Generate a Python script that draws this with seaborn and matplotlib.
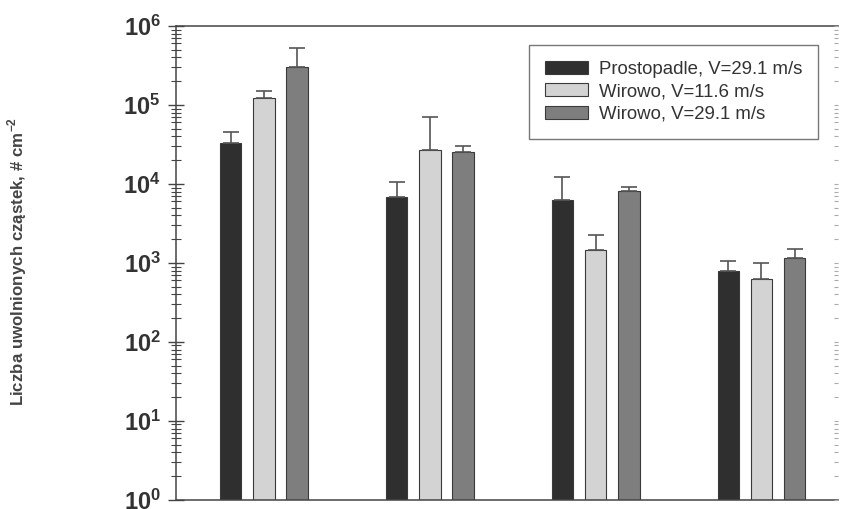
import numpy as np
import pandas as pd
import matplotlib
matplotlib.use('Agg')
import matplotlib.pyplot as plt
from matplotlib.ticker import LogLocator, FuncFormatter, NullFormatter
import seaborn as sns

sns.set_style('white')
plt.rcParams['font.family'] = ['Liberation Sans', 'DejaVu Sans']
plt.rcParams['mathtext.fontset'] = 'custom'
plt.rcParams['mathtext.rm'] = 'Liberation Sans'
plt.rcParams['mathtext.bf'] = 'Liberation Sans:bold'

# data
groups = ['A', 'B', 'C', 'D']
series = ['Prostopadle, V=29.1 m/s', 'Wirowo, V=11.6 m/s', 'Wirowo, V=29.1 m/s']
prostopadle = [33300, 6900, 6340, 800]
prostopadle_err = [45900, 10600, 12400, 1050]
wirowo_116 = [123000, 27200, 1460, 627]
wirowo_116_err = [150000, 69800, 2240, 1000]
wirowo_291 = [305000, 25600, 8150, 1170]
wirowo_291_err = [527000, 30300, 9250, 1520]

colors = ['#2f2f2f', '#d3d3d3', '#7e7e7e']

df = pd.DataFrame({
    'grupa': np.repeat(groups, 3),
    'seria': series * 4,
    'wartosc': np.ravel(np.column_stack([prostopadle, wirowo_116, wirowo_291])),
    'gora': np.ravel(np.column_stack([prostopadle_err, wirowo_116_err, wirowo_291_err])),
})

fig = plt.figure(figsize=(8.42, 5.09), dpi=100)
ax = fig.add_axes([0.209, 0.018, 0.786, 0.931])
ax.set_yscale('log')

sns.barplot(data=df, x='grupa', y='wartosc', hue='seria', hue_order=series,
            palette=colors, width=0.6, gap=0.35, edgecolor='#3a3a3a',
            linewidth=0.8, errorbar=None, ax=ax, legend=True)

# upper-only error bars, placed at the drawn bar centres
for cont, s in zip(ax.containers, series):
    sub = df[df['seria'] == s]
    xs = [p.get_x() + p.get_width() / 2 for p in cont.patches]
    vals = sub['wartosc'].values
    tops = sub['gora'].values
    ax.errorbar(xs, vals, yerr=[np.zeros(len(vals)), tops - vals], fmt='none',
                ecolor='#555555', elinewidth=1.2, capsize=5.5, capthick=1.2, zorder=1)

ax.set_ylim(1, 1e6)
ax.set_xlim(-0.53, 3.46)
ax.set_xlabel('')
ax.set_xticks([])
ax.set_ylabel('Liczba uwolnionych cząstek, # cm$^{\\mathbf{-2}}$',
              fontsize=12.2, fontweight='bold', color='#444444')
ax.yaxis.set_label_coords(-0.222, 0.504)

ax.yaxis.set_major_locator(LogLocator(base=10, numticks=10))
ax.yaxis.set_minor_locator(LogLocator(base=10, subs=np.arange(2, 10), numticks=20))
ax.yaxis.set_minor_formatter(NullFormatter())
ax.yaxis.set_major_formatter(FuncFormatter(lambda v, p: r'$\mathbf{10^{%d}}$' % round(np.log10(v))))
ax.tick_params(axis='y', which='major', direction='inout', length=12, width=1,
               color='#444444', labelsize=17, labelcolor='#333333', pad=5, left=True)
ax.tick_params(axis='y', which='minor', direction='inout', length=7, width=0.8,
               color='#444444', left=True)

for side in ['left', 'bottom', 'top']:
    ax.spines[side].set_visible(True)
    ax.spines[side].set_color('#444444')
    ax.spines[side].set_linewidth(1.1)
ax.spines['right'].set_visible(False)

# faint ticks on the right side
ax2 = ax.twinx()
ax2.set_yscale('log')
ax2.set_ylim(1, 1e6)
ax2.yaxis.set_major_locator(LogLocator(base=10, numticks=10))
ax2.yaxis.set_minor_locator(LogLocator(base=10, subs=np.arange(2, 10), numticks=20))
ax2.yaxis.set_major_formatter(NullFormatter())
ax2.yaxis.set_minor_formatter(NullFormatter())
ax2.tick_params(axis='y', which='both', direction='in', length=3, width=0.8, color='#aaaaaa')
for s in ax2.spines.values():
    s.set_visible(False)

leg = ax.legend(loc='upper right', bbox_to_anchor=(0.97, 0.96), fontsize=13.4,
                frameon=True, fancybox=False, edgecolor='#555555',
                handlelength=2.3, handleheight=0.7, handletextpad=0.6,
                labelspacing=0.3, borderpad=0.85, borderaxespad=0)
leg.get_frame().set_linewidth(1.0)
for t in leg.get_texts():
    t.set_color('#333333')

fig.savefig('out.png', dpi=100)
